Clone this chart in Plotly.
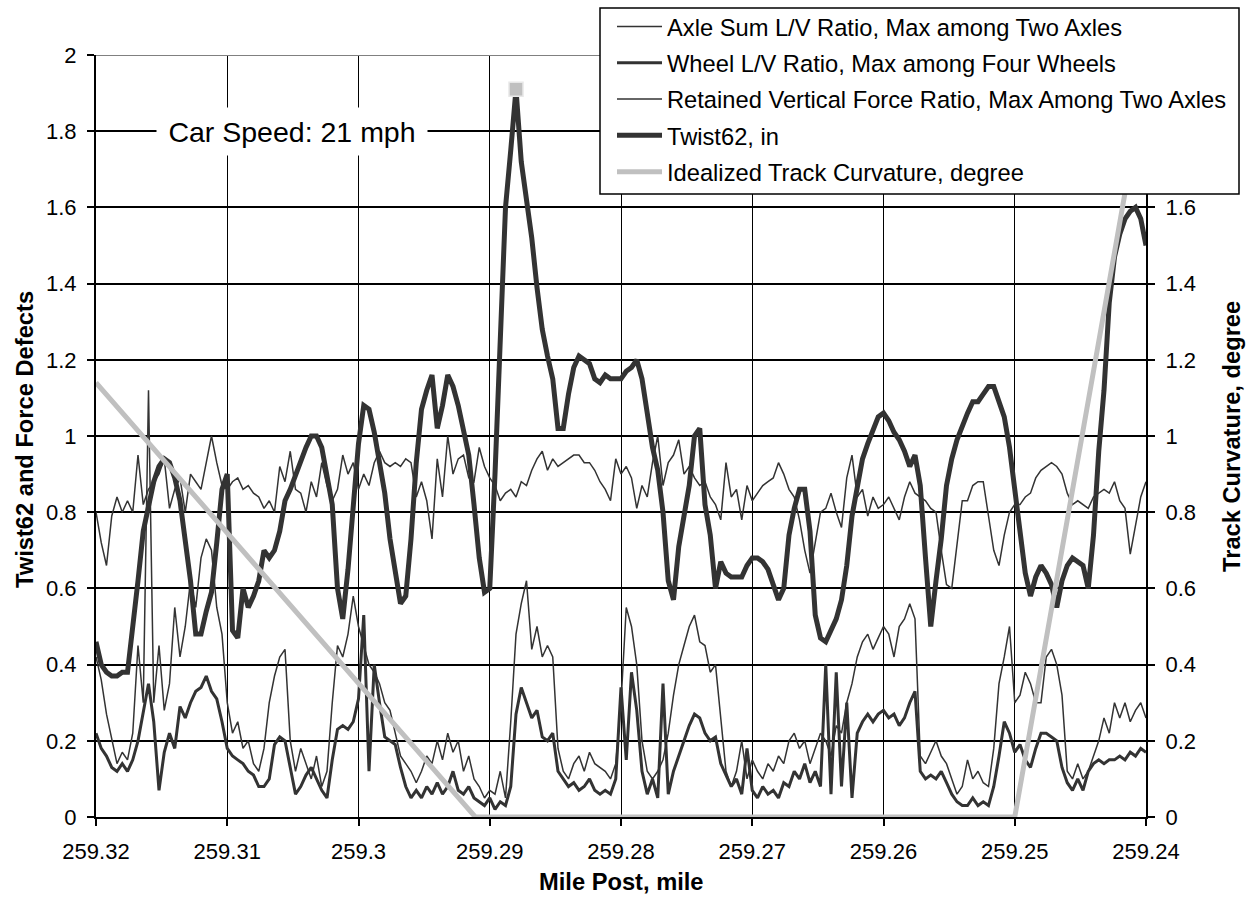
import numpy as np
import plotly.graph_objects as go

# Measurement stations along the track (mile post decreases in direction of travel)
MILE_START, MILE_END = 259.32, 259.24
N_STATIONS = 201
mile_post = np.linspace(MILE_START, MILE_END, N_STATIONS)

# Axle Sum L/V ratio, max among two axles
axle_sum_lv = [
    0.42, 0.36, 0.27, 0.20, 0.14, 0.17, 0.15, 0.22, 0.45, 0.30,
    1.12, 0.30, 0.45, 0.28, 0.35, 0.55, 0.42, 0.50, 0.62, 0.55,
    0.68, 0.73, 0.70, 0.55, 0.48, 0.30, 0.22, 0.25, 0.18, 0.20,
    0.14, 0.12, 0.18, 0.30, 0.37, 0.42, 0.44, 0.20, 0.12, 0.18,
    0.14, 0.10, 0.16, 0.08, 0.12, 0.30, 0.45, 0.42, 0.48, 0.58,
    0.50, 0.45, 0.40, 0.38, 0.35, 0.30, 0.28, 0.22, 0.16, 0.14,
    0.12, 0.09, 0.12, 0.16, 0.14, 0.20, 0.15, 0.22, 0.17, 0.20,
    0.12, 0.16, 0.10, 0.08, 0.05, 0.07, 0.06, 0.12, 0.05, 0.25,
    0.48, 0.56, 0.62, 0.44, 0.50, 0.42, 0.45, 0.42, 0.18, 0.12,
    0.10, 0.14, 0.16, 0.12, 0.17, 0.14, 0.13, 0.12, 0.10, 0.14,
    0.30, 0.55, 0.50, 0.40, 0.20, 0.12, 0.10, 0.12, 0.15, 0.22,
    0.32, 0.40, 0.45, 0.50, 0.53, 0.46, 0.45, 0.38, 0.40, 0.25,
    0.12, 0.08, 0.12, 0.20, 0.10, 0.15, 0.12, 0.10, 0.14, 0.12,
    0.16, 0.14, 0.20, 0.22, 0.18, 0.20, 0.14, 0.18, 0.22, 0.20,
    0.16, 0.24, 0.22, 0.30, 0.35, 0.42, 0.46, 0.48, 0.44, 0.47,
    0.50, 0.48, 0.42, 0.50, 0.52, 0.56, 0.52, 0.16, 0.14, 0.17,
    0.20, 0.16, 0.14, 0.10, 0.06, 0.08, 0.15, 0.10, 0.12, 0.09,
    0.08, 0.18, 0.35, 0.42, 0.50, 0.30, 0.32, 0.38, 0.35, 0.30,
    0.30, 0.42, 0.44, 0.40, 0.32, 0.12, 0.10, 0.14, 0.10, 0.12,
    0.16, 0.20, 0.26, 0.22, 0.30, 0.26, 0.30, 0.25, 0.28, 0.30,
    0.26,
]

# Wheel L/V ratio, max among four wheels
wheel_lv = [
    0.22, 0.18, 0.16, 0.13, 0.12, 0.14, 0.12, 0.15, 0.20, 0.28,
    0.35, 0.25, 0.07, 0.17, 0.22, 0.18, 0.29, 0.26, 0.30, 0.33,
    0.34, 0.37, 0.33, 0.31, 0.25, 0.18, 0.16, 0.15, 0.14, 0.12,
    0.11, 0.08, 0.08, 0.10, 0.19, 0.21, 0.20, 0.13, 0.06, 0.08,
    0.11, 0.13, 0.10, 0.07, 0.05, 0.15, 0.23, 0.24, 0.23, 0.25,
    0.31, 0.53, 0.12, 0.40, 0.30, 0.21, 0.20, 0.19, 0.13, 0.08,
    0.05, 0.07, 0.05, 0.08, 0.06, 0.09, 0.06, 0.08, 0.12, 0.07,
    0.06, 0.08, 0.05, 0.04, 0.03, 0.05, 0.02, 0.04, 0.03, 0.08,
    0.27, 0.34, 0.30, 0.26, 0.28, 0.21, 0.20, 0.22, 0.12, 0.10,
    0.08, 0.09, 0.07, 0.08, 0.10, 0.07, 0.06, 0.07, 0.06, 0.10,
    0.34, 0.15, 0.38, 0.28, 0.12, 0.06, 0.10, 0.05, 0.35, 0.06,
    0.12, 0.16, 0.20, 0.24, 0.27, 0.26, 0.22, 0.20, 0.21, 0.14,
    0.11, 0.08, 0.10, 0.06, 0.18, 0.07, 0.05, 0.08, 0.06, 0.07,
    0.05, 0.09, 0.08, 0.12, 0.10, 0.14, 0.09, 0.12, 0.08, 0.40,
    0.06, 0.38, 0.08, 0.30, 0.05, 0.22, 0.25, 0.27, 0.25, 0.27,
    0.28, 0.26, 0.27, 0.24, 0.26, 0.30, 0.33, 0.12, 0.10, 0.11,
    0.10, 0.12, 0.09, 0.06, 0.04, 0.03, 0.03, 0.05, 0.03, 0.04,
    0.03, 0.08, 0.16, 0.25, 0.22, 0.17, 0.19, 0.15, 0.13, 0.18,
    0.22, 0.22, 0.21, 0.20, 0.13, 0.09, 0.07, 0.10, 0.07, 0.12,
    0.14, 0.15, 0.14, 0.15, 0.15, 0.16, 0.15, 0.17, 0.16, 0.18,
    0.17,
]

# Retained vertical force ratio, max among two axles
retained_vf = [
    0.80, 0.72, 0.66, 0.79, 0.84, 0.80, 0.83, 0.80, 0.95, 0.82,
    0.86, 0.88, 0.90, 0.94, 0.81, 0.86, 0.89, 0.80, 0.90, 0.88,
    0.86, 0.93, 1.00, 0.93, 0.87, 0.86, 0.88, 0.89, 0.86, 0.87,
    0.85, 0.84, 0.81, 0.83, 0.80, 0.92, 0.88, 0.96, 0.86, 0.85,
    0.80, 0.88, 0.84, 0.93, 0.87, 0.83, 0.86, 0.95, 0.90, 0.93,
    0.86, 0.90, 0.87, 0.93, 0.96, 0.93, 0.92, 0.93, 0.92, 0.94,
    0.93, 0.84, 0.88, 0.83, 0.73, 0.94, 0.84, 1.00, 0.90, 0.94,
    0.95, 0.89, 0.88, 0.97, 0.92, 0.89, 0.87, 0.83, 0.85, 0.86,
    0.84, 0.88, 0.87, 0.91, 0.94, 0.96, 0.91, 0.94, 0.92, 0.93,
    0.94, 0.95, 0.95, 0.93, 0.93, 0.91, 0.88, 0.86, 0.83, 0.94,
    0.90, 0.92, 0.89, 0.81, 0.87, 0.84, 0.93, 1.00, 0.87, 0.93,
    0.95, 0.99, 0.90, 0.92, 0.89, 0.87, 0.88, 0.84, 0.82, 0.78,
    0.93, 0.84, 0.86, 0.78, 0.87, 0.83, 0.85, 0.87, 0.88, 0.89,
    0.93, 0.90, 0.86, 0.84, 0.78, 0.70, 0.64, 0.72, 0.80, 0.81,
    0.85, 0.80, 0.76, 0.89, 0.95, 0.84, 0.86, 0.79, 0.84, 0.81,
    0.82, 0.84, 0.81, 0.78, 0.84, 0.88, 0.85, 0.84, 0.83, 0.81,
    0.80, 0.70, 0.61, 0.60, 0.72, 0.83, 0.83, 0.87, 0.88, 0.88,
    0.79, 0.70, 0.66, 0.74, 0.80, 0.82, 0.82, 0.84, 0.85, 0.89,
    0.91, 0.92, 0.93, 0.92, 0.90, 0.85, 0.82, 0.83, 0.82, 0.81,
    0.84, 0.85, 0.86, 0.85, 0.88, 0.83, 0.81, 0.69, 0.76, 0.84,
    0.88,
]

# Twist over a 62 ft chord, inches
twist62 = [
    0.46, 0.40, 0.38, 0.37, 0.37, 0.38, 0.38, 0.49, 0.62, 0.75,
    0.82, 0.88, 0.92, 0.94, 0.93, 0.89, 0.83, 0.73, 0.62, 0.48,
    0.48, 0.54, 0.59, 0.72, 0.86, 0.90, 0.49, 0.47, 0.60, 0.55,
    0.58, 0.62, 0.70, 0.68, 0.70, 0.75, 0.83, 0.86, 0.90, 0.94,
    0.97, 1.00, 1.00, 0.97, 0.90, 0.82, 0.60, 0.52, 0.65, 0.80,
    0.98, 1.08, 1.07, 1.01, 0.93, 0.85, 0.73, 0.64, 0.56, 0.58,
    0.73, 0.93, 1.07, 1.12, 1.16, 1.02, 1.08, 1.16, 1.13, 1.08,
    1.02, 0.95, 0.82, 0.68, 0.59, 0.60, 0.90, 1.25, 1.60, 1.75,
    1.91, 1.72, 1.63, 1.52, 1.39, 1.28, 1.21, 1.15, 1.02, 1.02,
    1.11, 1.18, 1.21, 1.20, 1.19, 1.15, 1.14, 1.16, 1.15, 1.15,
    1.15, 1.17, 1.18, 1.20, 1.15, 1.06, 0.97, 0.91, 0.80, 0.62,
    0.57, 0.71, 0.80, 0.87, 1.00, 1.02, 0.82, 0.74, 0.60, 0.67,
    0.64, 0.63, 0.63, 0.63, 0.66, 0.68, 0.68, 0.67, 0.65, 0.61,
    0.57, 0.60, 0.74, 0.81, 0.86, 0.86, 0.75, 0.53, 0.47, 0.46,
    0.49, 0.52, 0.57, 0.66, 0.79, 0.87, 0.94, 0.98, 1.02, 1.05,
    1.06, 1.04, 1.01, 0.99, 0.96, 0.92, 0.95, 0.87, 0.68, 0.50,
    0.62, 0.73, 0.87, 0.94, 0.99, 1.03, 1.06, 1.09, 1.09, 1.11,
    1.13, 1.13, 1.09, 1.05, 0.97, 0.86, 0.75, 0.64, 0.58, 0.63,
    0.66, 0.64, 0.61, 0.55, 0.62, 0.66, 0.68, 0.67, 0.66, 0.60,
    0.74, 0.96, 1.12, 1.35, 1.47, 1.53, 1.57, 1.59, 1.60, 1.57,
    1.50,
]

# Idealized track curvature (spiral - tangent - spiral), degrees
curve_mile_post = [259.32, 259.2911, 259.25, 259.24]
curve_degree = [1.14, 0.0, 0.0, 1.95]

# Axis ticks
MILE_TICKS = [259.32, 259.31, 259.30, 259.29, 259.28, 259.27, 259.26, 259.25, 259.24]
MILE_TICK_TEXT = ["259.32", "259.31", "259.3", "259.29", "259.28", "259.27", "259.26", "259.25", "259.24"]
LEFT_TICKS = [0, 0.2, 0.4, 0.6, 0.8, 1.0, 1.2, 1.4, 1.6, 1.8, 2.0]
LEFT_TICK_TEXT = ["0", "0.2", "0.4", "0.6", "0.8", "1", "1.2", "1.4", "1.6", "1.8", "2"]
RIGHT_TICKS = [0, 0.2, 0.4, 0.6, 0.8, 1.0, 1.2, 1.4, 1.6]
RIGHT_TICK_TEXT = ["0", "0.2", "0.4", "0.6", "0.8", "1", "1.2", "1.4", "1.6"]

FONT = "Liberation Sans, Arial, sans-serif"
DARK = "#333333"
LIGHT = "#c0c0c0"

fig = go.Figure()

series = [
    ("Axle Sum L/V Ratio, Max among Two Axles", axle_sum_lv, 1.5),
    ("Wheel L/V Ratio, Max among Four Wheels", wheel_lv, 3),
    ("Retained Vertical Force Ratio, Max Among Two Axles", retained_vf, 1.5),
    ("Twist62, in", twist62, 5),
]
for k, (name, vals, w) in enumerate(series):
    fig.add_trace(go.Scatter(
        x=mile_post, y=vals, mode="lines", name=name,
        legendgroup=f"g{k}",
        line=dict(color=DARK, width=w),
    ))

# Peak twist highlighted
peak = int(np.argmax(twist62))
fig.add_trace(go.Scatter(
    x=[mile_post[peak]], y=[twist62[peak]], mode="markers", showlegend=False,
    marker=dict(symbol="square", size=14, color=LIGHT, line=dict(color="#e8e8e8", width=1.5)),
))

fig.add_trace(go.Scatter(
    x=curve_mile_post, y=curve_degree, mode="lines",
    name="Idealized Track Curvature, degree", legendgroup="g5",
    line=dict(color=LIGHT, width=5), yaxis="y2",
))

axis_common = dict(
    showline=True, linecolor="black", linewidth=2,
    ticks="outside", ticklen=7, tickwidth=2, tickcolor="black",
    tickfont=dict(family=FONT, size=22, color="black"),
    zeroline=False,
)

W, H = 1253, 920
L, R, T, B = 96, 107, 55, 103
PW, PH = W - L - R, H - T - B


def px_x(px):
    return (px - L) / PW


def px_y(py):
    return (H - B - py) / PH


fig.update_layout(
    width=W, height=H,
    margin=dict(l=L, r=R, t=T, b=B, pad=0, autoexpand=False),
    paper_bgcolor="white", plot_bgcolor="white",
    font=dict(family=FONT, color="black"),
    xaxis=dict(
        range=[MILE_START, MILE_END], tickvals=MILE_TICKS, ticktext=MILE_TICK_TEXT,
        showgrid=True, gridcolor="black", gridwidth=1.3,
        ticklabelstandoff=7, automargin=False,
        **axis_common,
    ),
    yaxis=dict(
        range=[0, 2], tickvals=LEFT_TICKS, ticktext=LEFT_TICK_TEXT,
        showgrid=True, gridcolor="black", gridwidth=1.5,
        ticklabelstandoff=6, automargin=False,
        **axis_common,
    ),
    yaxis2=dict(
        range=[0, 2], tickvals=RIGHT_TICKS, ticktext=RIGHT_TICK_TEXT,
        overlaying="y", side="right", showgrid=False,
        ticklabelstandoff=6, automargin=False,
        **axis_common,
    ),
    showlegend=True,
    legend=dict(
        x=px_x(612), y=px_y(4.5), xanchor="left", yanchor="top",
        bgcolor="rgba(0,0,0,0)", borderwidth=0,
        font=dict(family=FONT, size=23.7, color="black"),
        tracegroupgap=2.5, traceorder="grouped", itemwidth=45,
    ),
    shapes=[
        dict(type="line", xref="x", yref="y", x0=MILE_START, x1=MILE_END, y0=2, y1=2,
             line=dict(color="#808080", width=2), layer="above"),
        dict(type="rect", xref="paper", yref="paper",
             x0=px_x(600), x1=px_x(1239), y0=px_y(194), y1=px_y(8),
             fillcolor="white", line=dict(color="black", width=1.5), layer="above"),
    ],
    annotations=[
        dict(text="Car Speed: 21 mph", xref="paper", yref="y", x=px_x(292), y=1.8,
             xanchor="center", yanchor="middle",
             showarrow=False, bgcolor="white", width=268, height=45,
             font=dict(family=FONT, size=28.5, color="black")),
        dict(text="Mile Post, mile", xref="paper", yref="paper", x=0.5, y=px_y(882),
             showarrow=False, xanchor="center", yanchor="middle",
             font=dict(family=FONT, size=23.7, color="black", weight="bold")),
        dict(text="Twist62 and Force Defects", xref="paper", yref="paper",
             x=px_x(25), y=px_y(440), textangle=-90, showarrow=False,
             xanchor="center", yanchor="middle",
             font=dict(family=FONT, size=23.7, color="black", weight="bold")),
        dict(text="Track Curvature, degree", xref="paper", yref="paper",
             x=px_x(1232), y=px_y(437), textangle=-90, showarrow=False,
             xanchor="center", yanchor="middle",
             font=dict(family=FONT, size=23.7, color="black", weight="bold")),
    ],
)

fig.write_html("out.html")
